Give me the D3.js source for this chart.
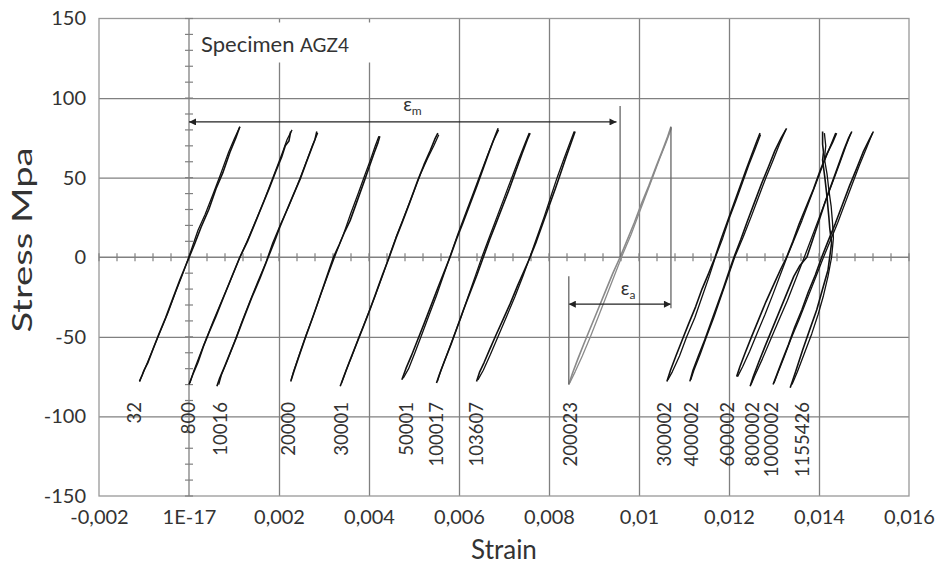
<!DOCTYPE html>
<html>
<head>
<meta charset="utf-8">
<script src="https://cdn.jsdelivr.net/npm/d3@7"></script>
<style>
  body { margin: 0; background: #fff; }
  svg { display: block; }
  text { font-family: Lato, "Open Sans", sans-serif; fill: #333; }
</style>
</head>
<body>
<div id="chart"></div>
<script>
// ---- data ----
var cycleLabels = ["32", "800", "10016", "20000", "30001", "50001", "100017", "103607",
  "200023", "300002", "400002", "600002", "800002", "1000002", "1155426"];

// strain where each cycle label sits
var labelStrain = [-0.0012, 0.0, 0.00071, 0.00222, 0.0034, 0.00484, 0.00551, 0.0064,
  0.00849, 0.01058, 0.01118, 0.01198, 0.01253, 0.01296, 0.01364];

// loading branch [strain, stress MPa] per cycle
var upBranch = [
  [[-0.00110,-78],[-0.00104,-74],[-0.00100,-71],[-0.00091,-66],[-0.00079,-57],[-0.00068,-49],[-0.00052,-38],[-0.00036,-26],[-0.00020,-14],[-0.00004,-3],[0.00012,8],[0.00027,19],[0.00044,30],[0.00060,43],[0.00075,53],[0.00091,66],[0.00104,75],[0.00113,82]],
  [[0.00000,-80],[0.00008,-74],[0.00020,-66],[0.00032,-56],[0.00045,-47],[0.00060,-37],[0.00077,-25],[0.00094,-13],[0.00113,0],[0.00130,10],[0.00146,21],[0.00162,32],[0.00178,43],[0.00193,54],[0.00206,63],[0.00214,70],[0.00222,73],[0.00226,79]],
  [[0.00062,-81],[0.00068,-76],[0.00080,-68],[0.00093,-59],[0.00106,-50],[0.00122,-38],[0.00140,-25],[0.00158,-13],[0.00176,0],[0.00190,10],[0.00202,19],[0.00218,30],[0.00233,40],[0.00247,49],[0.00260,59],[0.00272,68],[0.00280,74],[0.00284,79]],
  [[0.00226,-78],[0.00234,-71],[0.00246,-61],[0.00258,-51],[0.00272,-40],[0.00287,-28],[0.00304,-14],[0.00321,0],[0.00334,8],[0.00346,16],[0.00358,23],[0.00372,34],[0.00391,49],[0.00402,58],[0.00412,66],[0.00420,72],[0.00424,76]],
  [[0.00336,-81],[0.00344,-75],[0.00356,-66],[0.00370,-56],[0.00387,-44],[0.00402,-33],[0.00416,-22],[0.00430,-11],[0.00445,0],[0.00460,12],[0.00474,22],[0.00490,34],[0.00508,48],[0.00522,58],[0.00536,67],[0.00546,74],[0.00553,78]],
  [[0.00473,-77],[0.00482,-70],[0.00494,-62],[0.00508,-52],[0.00522,-42],[0.00537,-31],[0.00552,-20],[0.00566,-10],[0.00580,0],[0.00594,11],[0.00608,21],[0.00624,33],[0.00640,45],[0.00654,56],[0.00668,67],[0.00680,76],[0.00687,81]],
  [[0.00550,-79],[0.00556,-74],[0.00568,-65],[0.00582,-55],[0.00596,-44],[0.00610,-33],[0.00625,-22],[0.00640,-11],[0.00654,0],[0.00668,11],[0.00682,21],[0.00697,32],[0.00712,43],[0.00726,54],[0.00740,65],[0.00752,74],[0.00758,78]],
  [[0.00639,-78],[0.00646,-72],[0.00656,-66],[0.00668,-58],[0.00682,-49],[0.00698,-39],[0.00714,-29],[0.00730,-18],[0.00744,-9],[0.00758,0],[0.00772,10],[0.00786,21],[0.00800,32],[0.00814,43],[0.00826,53],[0.00838,63],[0.00848,71],[0.00858,79]],
  [[0.00844,-80],[0.00852,-73],[0.00864,-64],[0.00878,-54],[0.00894,-43],[0.00910,-32],[0.00926,-21],[0.00942,-10],[0.00958,0],[0.00974,11],[0.00990,22],[0.01006,34],[0.01022,45],[0.01038,57],[0.01052,67],[0.01064,76],[0.01071,82]],
  [[0.01062,-78],[0.01070,-71],[0.01082,-62],[0.01096,-52],[0.01110,-42],[0.01126,-31],[0.01140,-20],[0.01155,-10],[0.01169,0],[0.01182,11],[0.01196,22],[0.01210,33],[0.01224,44],[0.01238,55],[0.01250,64],[0.01262,73],[0.01269,78]],
  [[0.01113,-78],[0.01120,-71],[0.01132,-62],[0.01146,-52],[0.01160,-41],[0.01174,-30],[0.01188,-19],[0.01200,-9],[0.01211,0],[0.01226,11],[0.01240,22],[0.01256,34],[0.01272,46],[0.01288,57],[0.01302,67],[0.01316,75],[0.01328,81]],
  [[0.01217,-75],[0.01224,-69],[0.01236,-60],[0.01250,-50],[0.01266,-39],[0.01282,-28],[0.01298,-18],[0.01314,-8],[0.01328,0],[0.01342,10],[0.01356,21],[0.01372,32],[0.01388,43],[0.01402,54],[0.01416,64],[0.01430,72],[0.01439,78]],
  [[0.01247,-81],[0.01254,-75],[0.01266,-66],[0.01280,-56],[0.01296,-45],[0.01312,-34],[0.01328,-23],[0.01344,-12],[0.01358,-5],[0.01373,0],[0.01386,11],[0.01400,23],[0.01414,35],[0.01428,46],[0.01442,57],[0.01456,68],[0.01466,75],[0.01473,79]],
  [[0.01298,-80],[0.01306,-74],[0.01318,-65],[0.01332,-55],[0.01346,-44],[0.01362,-33],[0.01376,-22],[0.01392,-11],[0.01406,0],[0.01420,10],[0.01436,21],[0.01452,33],[0.01468,45],[0.01484,56],[0.01498,66],[0.01512,74],[0.01521,79]],
  [[0.01336,-82],[0.01348,-72],[0.01364,-58],[0.01380,-45],[0.01395,-33],[0.01408,-20],[0.01420,-8],[0.01428,9],[0.01424,18],[0.01422,25],[0.01417,40],[0.01413,50],[0.01408,61],[0.01410,66],[0.01408,71],[0.01408,79]]
];

// unloading branch per cycle
var downBranch = [
  [[0.00113,82],[0.00100,74],[0.00088,66],[0.00070,52],[0.00054,40],[0.00036,27],[0.00020,17],[0.00002,2],[-0.00016,-12],[-0.00030,-22],[-0.00047,-35],[-0.00066,-48],[-0.00082,-59],[-0.00098,-70],[-0.00110,-78]],
  [[0.00229,80],[0.00218,74],[0.00208,66],[0.00196,57],[0.00181,46],[0.00166,35],[0.00150,24],[0.00132,12],[0.00110,-2],[0.00090,-16],[0.00072,-28],[0.00054,-40],[0.00036,-53],[0.00022,-63],[0.00010,-72],[0.00002,-79]],
  [[0.00286,78],[0.00274,70],[0.00262,61],[0.00250,52],[0.00236,42],[0.00220,31],[0.00204,21],[0.00186,9],[0.00170,-4],[0.00152,-16],[0.00135,-28],[0.00117,-41],[0.00100,-54],[0.00085,-65],[0.00072,-74],[0.00066,-80]],
  [[0.00422,76],[0.00414,70],[0.00403,61],[0.00390,51],[0.00376,40],[0.00360,28],[0.00344,15],[0.00326,2],[0.00310,-10],[0.00292,-24],[0.00276,-37],[0.00260,-49],[0.00244,-62],[0.00232,-72],[0.00227,-77]],
  [[0.00555,77],[0.00544,70],[0.00530,62],[0.00514,52],[0.00498,40],[0.00480,27],[0.00462,14],[0.00448,3],[0.00432,-10],[0.00414,-24],[0.00396,-37],[0.00378,-50],[0.00362,-62],[0.00348,-72],[0.00339,-79]],
  [[0.00688,80],[0.00676,73],[0.00662,63],[0.00646,51],[0.00630,39],[0.00614,27],[0.00598,15],[0.00582,2],[0.00566,-11],[0.00550,-24],[0.00534,-36],[0.00518,-48],[0.00502,-60],[0.00488,-70],[0.00476,-76]],
  [[0.00756,78],[0.00746,71],[0.00732,61],[0.00716,49],[0.00700,37],[0.00684,25],[0.00668,13],[0.00652,1],[0.00636,-12],[0.00620,-25],[0.00604,-38],[0.00588,-50],[0.00572,-62],[0.00560,-71],[0.00552,-78]],
  [[0.00856,79],[0.00844,70],[0.00832,61],[0.00818,50],[0.00804,38],[0.00790,26],[0.00775,14],[0.00760,2],[0.00742,-12],[0.00724,-25],[0.00706,-37],[0.00688,-49],[0.00670,-61],[0.00654,-71],[0.00642,-77]],
  [[0.01072,81],[0.01060,72],[0.01046,62],[0.01030,50],[0.01014,38],[0.00998,26],[0.00982,14],[0.00964,2],[0.00946,-11],[0.00928,-24],[0.00910,-37],[0.00892,-50],[0.00874,-62],[0.00858,-72],[0.00846,-79]],
  [[0.01270,77],[0.01258,68],[0.01244,58],[0.01230,47],[0.01216,36],[0.01200,24],[0.01186,12],[0.01171,1],[0.01156,-12],[0.01140,-25],[0.01124,-38],[0.01106,-50],[0.01090,-62],[0.01074,-72],[0.01064,-77]],
  [[0.01326,80],[0.01312,71],[0.01298,61],[0.01282,50],[0.01266,38],[0.01250,26],[0.01232,13],[0.01214,1],[0.01198,-12],[0.01182,-25],[0.01166,-38],[0.01150,-50],[0.01136,-61],[0.01122,-71],[0.01115,-77]],
  [[0.01437,78],[0.01424,69],[0.01410,59],[0.01394,47],[0.01378,35],[0.01362,23],[0.01346,12],[0.01330,1],[0.01314,-11],[0.01298,-23],[0.01280,-36],[0.01262,-48],[0.01246,-59],[0.01230,-69],[0.01219,-75]],
  [[0.01471,78],[0.01460,70],[0.01446,59],[0.01430,47],[0.01414,35],[0.01398,23],[0.01382,11],[0.01366,-1],[0.01348,-14],[0.01330,-27],[0.01310,-40],[0.01292,-52],[0.01274,-64],[0.01258,-74],[0.01249,-80]],
  [[0.01519,78],[0.01506,69],[0.01490,58],[0.01474,46],[0.01458,34],[0.01442,22],[0.01426,11],[0.01410,0],[0.01392,-13],[0.01374,-26],[0.01356,-39],[0.01338,-51],[0.01322,-63],[0.01308,-73],[0.01300,-79]],
  [[0.01412,78],[0.01415,70],[0.01412,62],[0.01418,52],[0.01422,42],[0.01427,32],[0.01430,22],[0.01432,12],[0.01428,0],[0.01420,-12],[0.01410,-24],[0.01398,-36],[0.01384,-48],[0.01368,-60],[0.01352,-72],[0.01340,-80]]
];

var xTickValues = [-0.002, 0, 0.002, 0.004, 0.006, 0.008, 0.01, 0.012, 0.014, 0.016];
var xTickLabels = ["-0,002", "1E-17", "0,002", "0,004", "0,006", "0,008", "0,01", "0,012", "0,014", "0,016"];
var yTickValues = [150, 100, 50, 0, -50, -100, -150];
var yTickLabels = ["150", "100", "50", "0", "-50", "-100", "-150"];

// mean strain / amplitude markers [strain, stress]
var meanArrow = [[0, 85], [0.00950, 85]];
var meanMarker = [[0.00958, 95], [0.00958, 0]];
var ampArrow = [[0.00844, -29.5], [0.01071, -29.5]];
var ampMarkerLeft = [[0.00844, -12], [0.00844, -80]];
var ampMarkerRight = [[0.01071, 82], [0.01071, -32]];

// ---- layout ----
var w = 937, h = 566;
var x = d3.scaleLinear().domain([-0.002, 0.016]).range([99, 909]);
var y = d3.scaleLinear().domain([-150, 150]).range([496, 18.5]);
var gridCol = "#808080";

var svg = d3.select("#chart").append("svg").attr("width", w).attr("height", h);

// grid lines
svg.append("g")
  .attr("transform", "translate(0," + y(-150) + ")")
  .call(d3.axisBottom(x).tickValues([0.002, 0.004, 0.006, 0.008, 0.01, 0.012, 0.014])
    .tickSize(-(y(-150) - y(150))).tickFormat(""))
  .call(function(g){ g.select(".domain").remove(); })
  .selectAll("line").attr("stroke", gridCol).attr("stroke-width", 1.3);

svg.append("g")
  .attr("transform", "translate(" + x(-0.002) + ",0)")
  .call(d3.axisLeft(y).tickValues([100, 50, -50, -100])
    .tickSize(-(x(0.016) - x(-0.002))).tickFormat(""))
  .call(function(g){ g.select(".domain").remove(); })
  .selectAll("line").attr("stroke", gridCol).attr("stroke-width", 1.3);

// plot frame
svg.append("rect")
  .attr("x", x(-0.002)).attr("y", y(150))
  .attr("width", x(0.016) - x(-0.002)).attr("height", y(-150) - y(150))
  .attr("fill", "none").attr("stroke", "#999").attr("stroke-width", 1.3);

// white box behind the specimen title
svg.append("rect")
  .attr("x", x(0) + 2).attr("y", y(150) + 4)
  .attr("width", 250).attr("height", 40)
  .attr("fill", "#fff");

// zero axes with minor ticks
svg.append("line").attr("x1", x(-0.002)).attr("x2", x(0.016))
  .attr("y1", y(0)).attr("y2", y(0)).attr("stroke", gridCol).attr("stroke-width", 1.3);
svg.append("line").attr("x1", x(0)).attr("x2", x(0))
  .attr("y1", y(150)).attr("y2", y(-150)).attr("stroke", gridCol).attr("stroke-width", 1.3);

svg.append("g").selectAll("line")
  .data(d3.range(-0.002, 0.0161, 0.0004))
  .enter().append("line")
  .attr("x1", function(d){ return x(d); }).attr("x2", function(d){ return x(d); })
  .attr("y1", y(0) - 4).attr("y2", y(0) + 4)
  .attr("stroke", gridCol).attr("stroke-width", 1.2);

svg.append("g").selectAll("line")
  .data(d3.range(-150, 151, 10))
  .enter().append("line")
  .attr("x1", x(0) - 4).attr("x2", x(0) + 4)
  .attr("y1", function(d){ return y(d); }).attr("y2", function(d){ return y(d); })
  .attr("stroke", gridCol).attr("stroke-width", 1.2);

// tick labels
var xAx = svg.append("g")
  .attr("transform", "translate(0," + y(-150) + ")")
  .call(d3.axisBottom(x).tickValues(xTickValues)
    .tickFormat(function(d, i){ return xTickLabels[i]; }).tickSize(0).tickPadding(14));
xAx.select(".domain").remove();
xAx.selectAll("text").attr("font-family", "Lato").attr("font-size", 20).attr("fill", "#333");

var yAx = svg.append("g")
  .attr("transform", "translate(" + (x(-0.002) - 13) + ",0)")
  .call(d3.axisLeft(y).tickValues(yTickValues)
    .tickFormat(function(d, i){ return yTickLabels[i]; }).tickSize(0).tickPadding(0));
yAx.select(".domain").remove();
yAx.selectAll("text").attr("font-family", "Lato").attr("font-size", 20).attr("fill", "#333");

// axis titles
svg.append("text").attr("x", (x(-0.002) + x(0.016)) / 2).attr("y", 559)
  .attr("text-anchor", "middle").attr("font-size", 26).text("Strain");
svg.append("text")
  .attr("transform", "translate(32,240) rotate(-90)")
  .attr("text-anchor", "middle").attr("font-size", 26)
  .attr("textLength", 185).attr("lengthAdjust", "spacingAndGlyphs")
  .text("Stress Mpa");

// specimen title
var sp = svg.append("text").attr("x", x(0) + 12).attr("y", y(150) + 33);
sp.append("tspan").attr("font-size", 22).text("Specimen ");
sp.append("tspan").attr("font-size", 19).text("AGZ4");

// hysteresis loops
var line = d3.line()
  .x(function(d){ return x(d[0]); })
  .y(function(d){ return y(d[1]); });

var loops = svg.append("g").attr("fill", "none").attr("stroke-linejoin", "round");
cycleLabels.forEach(function(c, i) {
  var col = (c === "200023") ? "#8a8a8a" : "#111";
  loops.append("path").attr("d", line(upBranch[i])).attr("stroke", col).attr("stroke-width", 1.6);
  loops.append("path").attr("d", line(downBranch[i])).attr("stroke", col).attr("stroke-width", 1.3);
});

// cycle labels
svg.append("g").selectAll("text")
  .data(cycleLabels)
  .enter().append("text")
  .attr("transform", function(d, i){
    return "translate(" + (x(labelStrain[i]) + 6) + "," + y(-91) + ") rotate(-90)";
  })
  .attr("text-anchor", "end")
  .attr("font-size", 18.5)
  .attr("fill", "#222")
  .text(function(d){ return d; });

// markers
var defs = svg.append("defs");
defs.append("marker").attr("id", "ah").attr("viewBox", "0 0 10 10")
  .attr("refX", 10).attr("refY", 5).attr("markerWidth", 9).attr("markerHeight", 7)
  .attr("markerUnits", "userSpaceOnUse").attr("orient", "auto-start-reverse")
  .append("path").attr("d", "M0,0L10,5L0,10Z").attr("fill", "#222");

var ann = svg.append("g").attr("fill", "none").attr("stroke", "#222");
ann.append("path").attr("d", line(meanArrow)).attr("stroke-width", 1.3)
  .attr("marker-start", "url(#ah)").attr("marker-end", "url(#ah)");
ann.append("path").attr("d", line(meanMarker)).attr("stroke", "#666").attr("stroke-width", 1.3);
ann.append("path").attr("d", line(ampArrow)).attr("stroke-width", 1.3)
  .attr("marker-start", "url(#ah)").attr("marker-end", "url(#ah)");
ann.append("path").attr("d", line(ampMarkerLeft)).attr("stroke", "#666").attr("stroke-width", 1.3);
ann.append("path").attr("d", line(ampMarkerRight)).attr("stroke", "#666").attr("stroke-width", 1.3);

var em = svg.append("text").attr("x", x(0.00496) - 9).attr("y", y(92)).attr("font-size", 19);
em.append("tspan").text("ε");
em.append("tspan").attr("font-size", 12).attr("dy", 4).text("m");
var ea = svg.append("text").attr("x", x(0.00973) - 6).attr("y", y(-24)).attr("font-size", 19);
ea.append("tspan").text("ε");
ea.append("tspan").attr("font-size", 12).attr("dy", 4).text("a");
</script>
</body>
</html>
